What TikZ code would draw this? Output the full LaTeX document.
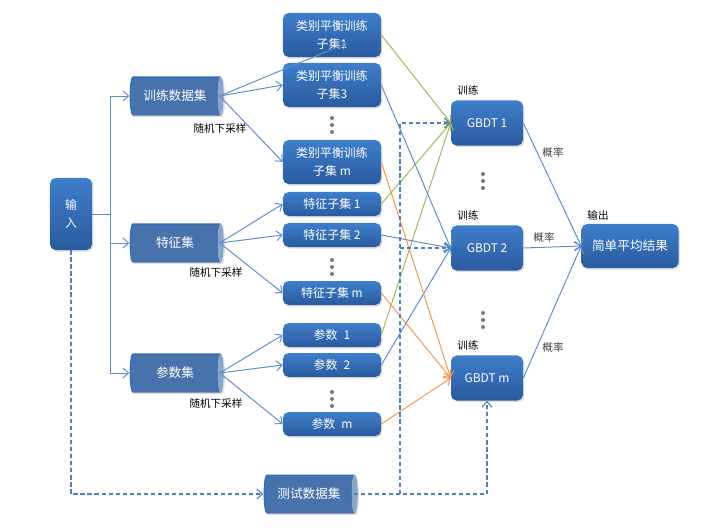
\documentclass[tikz,border=0pt]{standalone}
\usepackage{fontspec}
\setmainfont{Noto Sans CJK SC}
\usepackage{xcolor}
\usepackage{tikz}
\usetikzlibrary{positioning,arrows.meta,shapes.geometric,shadows}

\definecolor{boxtop}{RGB}{62,126,203}
\definecolor{boxbot}{RGB}{42,90,158}
\definecolor{cylbody}{RGB}{52,110,186}
\definecolor{cylcap}{RGB}{142,180,227}
\definecolor{linkblue}{RGB}{96,141,204}
\definecolor{linkgreen}{RGB}{155,187,89}
\definecolor{linkorange}{RGB}{247,150,70}
\definecolor{dashblue}{RGB}{79,129,189}
\definecolor{dotgray}{RGB}{120,120,120}

\tikzset{
  box/.style={rectangle, rounded corners=4pt, top color=boxtop, bottom color=boxbot,
    text=white, align=center, inner sep=0pt, font=\fontsize{8.5}{12.5}\selectfont,
    drop shadow={opacity=0.25, shadow xshift=1pt, shadow yshift=-1.2pt}},
  bigsub/.style={box, minimum width=2.45cm, minimum height=1.1cm},
  smallsub/.style={box, minimum width=2.45cm, minimum height=0.6cm},
  gbdt/.style={box, minimum width=1.8cm, minimum height=1.125cm},
  cyl/.style={cylinder, shape border rotate=0, aspect=0.5, cylinder uses custom fill,
    cylinder body fill=cylbody, cylinder end fill=cylcap, minimum width=0.975cm,
    minimum height=2.35cm, inner sep=0pt, text=white, font=\fontsize{9}{11}\selectfont,
    drop shadow={opacity=0.25, shadow xshift=1pt, shadow yshift=-1.2pt}},
  lbl/.style={inner sep=0pt, font=\fontsize{7.5}{9}\selectfont},
  link/.style={draw=linkblue, line width=0.7pt},
  linkarrow/.style={link, -{Straight Barb[length=4pt,width=7pt]}},
  dashline/.style={draw=dashblue, line width=0.8pt, dash pattern=on 3pt off 2pt}
}

\begin{document}
\begin{tikzpicture}[x=0.025cm, y=-0.025cm]
	\useasboundingbox (0,0) rectangle (720,531);

	% input and the three sets
	\node[box, minimum width=1.05cm, minimum height=1.8cm] (input) at (71,214) {输\\入};
	\node[cyl] (train) at (175,96) {训练数据集};
	\node[cyl] (feat) at (175,243) {特征集};
	\node[cyl] (param) at (175,373) {参数集};
	\node[cyl] (test) at (309,494) {测试数据集};

	% subsets
	\node[bigsub] (cls1) at (332,35) {类别平衡训练\\子集1};
	\node[bigsub] (cls3) at (332,85) {类别平衡训练\\子集3};
	\node[bigsub] (clsm) at (332,162) {类别平衡训练\\子集 m};
	\node[smallsub] (fea1) at (332,204) {特征子集 1};
	\node[smallsub] (fea2) at (332,235) {特征子集 2};
	\node[smallsub] (feam) at (332,293) {特征子集 m};
	\node[smallsub] (par1) at (332,335) {参数\enspace 1};
	\node[smallsub] (par2) at (332,365) {参数\enspace 2};
	\node[smallsub] (parm) at (332,424) {参数\enspace m};

	% models and output
	\node[gbdt] (g1) at (487,123) {GBDT 1};
	\node[gbdt] (g2) at (487,248) {GBDT 2};
	\node[gbdt] (gm) at (487,378) {GBDT m};
	\node[box, minimum width=2.425cm, minimum height=1.1cm, font=\fontsize{9}{11}\selectfont] (avg) at (630,246) {简单平均结果};

	% labels
	\node[lbl] (samp1) at (220,128) {随机下采样};
	\node[lbl] (samp2) at (216,272) {随机下采样};
	\node[lbl] (samp3) at (216,403) {随机下采样};
	\node[lbl] (tr1) at (468,90) {训练};
	\node[lbl] (tr2) at (468,215) {训练};
	\node[lbl] (trm) at (468,345) {训练};
	\node[lbl] (out) at (598,215) {输出};
	\node[lbl, text=black!75] (p1) at (553,152) {概率};
	\node[lbl, text=black!75] (p2) at (544,237) {概率};
	\node[lbl, text=black!75] (pm) at (553,347) {概率};

	% dots
	\foreach \x/\y in {332/118, 332/260, 332/392, 483/174, 483/313}
		\foreach \k in {0,7,14}
			\fill[dotgray] (\x,\y+\k) circle (0.05cm);

	% input to the sets
	\coordinate (fork) at (110,214);
	\draw[link] (input.east) -- (fork);
	\foreach \n in {train,feat,param}
		\draw[linkarrow] (fork) |- (\n.west);

	% down sampling
	\draw[linkarrow] ([xshift=-3pt]train.east) -- ([xshift=0.375cm,yshift=-0.2cm]cls1.center);
	\foreach \s/\t in {train/cls3, train/clsm, feat/fea1, feat/fea2, feat/feam, param/par1, param/par2, param/parm}
		\draw[linkarrow] ([xshift=-3pt]\s.east) -- (\t.west);

	% subsets to models
	\foreach \s in {cls1,fea1,par1}
		\draw[linkarrow, draw=linkgreen] (\s.east) -- (g1.west);
	\foreach \s in {cls3,fea2,par2}
		\draw[linkarrow] (\s.east) -- (g2.west);
	\foreach \s in {clsm,feam,parm}
		\draw[linkarrow, draw=linkorange] (\s.east) -- (gm.west);

	% test data
	\coordinate (tbus) at (400,494);
	\draw[dashline, -{Straight Barb[length=4pt,width=7pt]}] (input.south) |- (test.west);
	\draw[dashline, -{Straight Barb[length=4pt,width=7pt]}] ([xshift=-3pt]test.east) -| (gm.south);
	\draw[dashline, -{Straight Barb[length=4pt,width=7pt]}] (tbus) |- (g1.west);
	\draw[dashline, -{Straight Barb[length=4pt,width=7pt]}] (tbus) |- (g2.west);

	% models to output
	\foreach \g in {g1,g2,gm}
		\draw[linkarrow] (\g.east) -- (avg.west);
\end{tikzpicture}
\end{document}
